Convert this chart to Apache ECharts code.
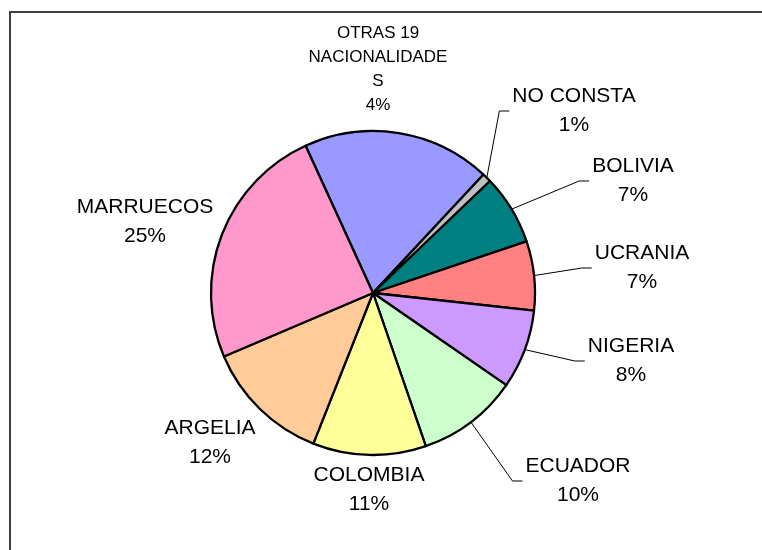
<!DOCTYPE html>
<html>
<head>
<meta charset="utf-8">
<script src="https://cdn.jsdelivr.net/npm/echarts@6/dist/echarts.min.js"></script>
<style>
  html, body { margin: 0; padding: 0; background: #fff; }
  #chart { width: 762px; height: 550px; }
</style>
</head>
<body>
<div id="chart"></div>
<script>
// slices clockwise, starting at the edge between MARRUECOS and the blue slice
const categories = ['OTRAS 19\nNACIONALIDADE\nS', 'NO CONSTA', 'BOLIVIA', 'UCRANIA', 'NIGERIA', 'ECUADOR', 'COLOMBIA', 'ARGELIA', 'MARRUECOS'];
const shares = [18.8, 0.9, 7.0, 6.9, 7.9, 10.1, 11.3, 12.6, 24.6];
// percentages as printed on the labels
const shownPct = [4, 1, 7, 7, 8, 10, 11, 12, 25];
const sliceColors = ['#9999ff', '#c0c0c0', '#008080', '#ff8080', '#cc99ff', '#ccffcc', '#ffff99', '#ffcc99', '#ff99cc'];
const hasLeader = [false, true, true, true, true, true, false, false, false];
// centre of each label block (layout only)
const labelAt = [[378, 69], [574, 111], [633, 181], [642, 268], [631, 361], [578, 481], [369, 490], [210, 443], [145, 222]];

const chart = echarts.init(document.getElementById('chart'));

const option = {
  animation: false,
  graphic: [
    {
      type: 'rect',
      silent: true,
      shape: { x: 10, y: 12, width: 900, height: 700 },
      style: { fill: 'none', stroke: '#404040', lineWidth: 2 },
    },
  ],
  series: [
    {
      type: 'pie',
      center: [373, 293],
      radius: 162,
      startAngle: 114.6,
      clockwise: true,
      avoidLabelOverlap: false,
      emphasis: { disabled: true },
      itemStyle: { borderColor: '#000', borderWidth: 2.3 },
      label: {
        show: true,
        position: 'outside',
        color: '#000',
        fontFamily: 'Liberation Sans, Arial, sans-serif',
        fontSize: 21,
        lineHeight: 29,
        formatter: p => categories[p.dataIndex] + '\n' + shownPct[p.dataIndex] + '%',
      },
      labelLine: {
        show: true,
        length: 20,
        length2: 10,
        lineStyle: { color: '#000', width: 1 },
      },
      labelLayout: function (p) {
        const i = p.dataIndex;
        const cx = labelAt[i][0];
        const cy = labelAt[i][1];
        const out = { x: cx, y: cy, align: 'center', verticalAlign: 'middle' };
        if (hasLeader[i] && p.labelLinePoints) {
          const start = p.labelLinePoints[0];
          const endX = cx - p.labelRect.width / 2 - 3;
          out.labelLinePoints = [start, [endX - 10, cy], [endX, cy]];
        }
        return out;
      },
      data: categories.map((name, i) => ({
        name: name,
        value: shares[i],
        itemStyle: { color: sliceColors[i] },
        label: i === 0 ? { fontSize: 17, lineHeight: 24 } : {},
        labelLine: { show: hasLeader[i] },
      })),
    },
  ],
};

chart.setOption(option);
</script>
</body>
</html>
